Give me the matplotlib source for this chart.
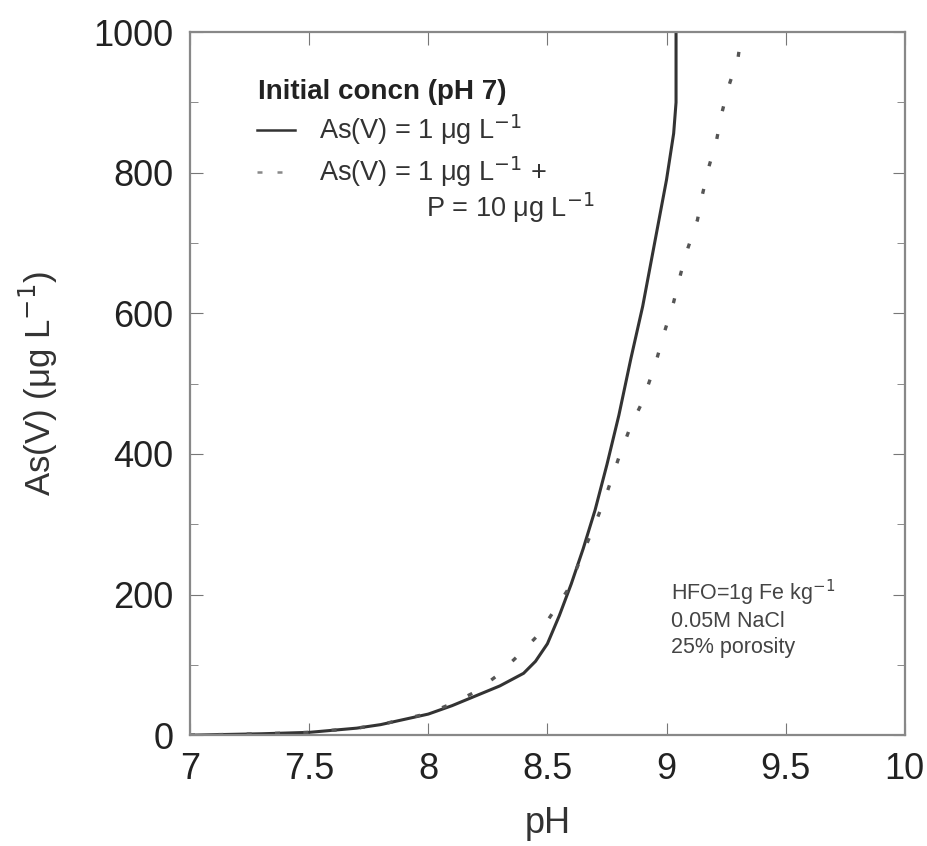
import matplotlib
matplotlib.use("Agg")
import matplotlib.pyplot as plt
from matplotlib.ticker import MultipleLocator

plt.rcParams['font.family'] = ['Liberation Sans', 'DejaVu Sans']

# solid curve: As(V) = 1 ug/L
ph_as = [7.0, 7.3, 7.5, 7.7, 7.8, 8.0, 8.1, 8.2, 8.3, 8.4, 8.45, 8.5, 8.55, 8.6,
         8.65, 8.7, 8.75, 8.8, 8.85, 8.9, 8.95, 9.0, 9.03, 9.04, 9.04]
as_only = [0, 2, 4, 10, 15, 30, 42, 56, 70, 88, 105, 130, 170, 215,
           265, 320, 385, 455, 535, 610, 700, 790, 856, 900, 1010]

# dotted curve: As(V) = 1 ug/L + P = 10 ug/L
ph_asp = [7.0, 7.3, 7.5, 7.7, 7.8, 8.0, 8.1, 8.2, 8.29, 8.38, 8.46, 8.53, 8.59,
          8.65, 8.7, 8.75, 8.8, 8.85, 8.9, 8.93, 8.96, 8.99, 9.03, 9.06, 9.09,
          9.13, 9.15, 9.18, 9.21, 9.23, 9.26, 9.30, 9.32]
as_p = [0, 2, 4, 10, 15, 31, 45, 62, 85, 114, 142, 178, 209,
        260, 300, 345, 395, 440, 475, 505, 536, 572, 616, 657, 693,
        733, 768, 811, 846, 882, 922, 963, 1010]

xticks = [7, 7.5, 8, 8.5, 9, 9.5, 10]
xticklabels = ['7', '7.5', '8', '8.5', '9', '9.5', '10']
yticks = [0, 200, 400, 600, 800, 1000]

fig = plt.figure(figsize=(9.27, 8.46), dpi=100)
ax = fig.add_axes([0.205, 0.131, 0.771, 0.831])

ax.plot(ph_as, as_only, color='#333333', lw=2.2, solid_capstyle='butt')
ax.plot(ph_asp, as_p, color='#555555', lw=2.4, linestyle=(0, (1.5, 7)))

ax.set_xlim(7, 10)
ax.set_ylim(0, 1000)
ax.set_xticks(xticks)
ax.set_xticklabels(xticklabels)
ax.set_yticks(yticks)
ax.yaxis.set_minor_locator(MultipleLocator(100))
ax.tick_params(which='both', direction='in', top=True, right=True,
               color='#777777', labelsize=26, labelcolor='#222222', pad=12)
ax.tick_params(which='major', length=9)
ax.tick_params(which='minor', length=6)
for s in ax.spines.values():
    s.set_color('#888888')
    s.set_linewidth(1.6)

ax.set_xlabel('pH', fontsize=26, color='#333333', labelpad=14)
ax.set_ylabel(r'As(V) ($\mathregular{\mu}$g L$^{-1}$)', fontsize=25,
              color='#333333', labelpad=24)

# legend block
ax.text(7.285, 915, 'Initial concn (pH 7)', fontsize=20, fontweight='bold',
        color='#222222', va='center')
ax.plot([7.28, 7.44], [861, 861], color='#333333', lw=1.8)
ax.text(7.54, 861, r'As(V) = 1 $\mathregular{\mu}$g L$^{-1}$', fontsize=19.5,
        color='#333333', va='center')
ax.plot([7.28, 7.44], [801, 801], color='#888888', lw=1.8, linestyle=(0, (2, 6)))
ax.text(7.54, 801, r'As(V) = 1 $\mathregular{\mu}$g L$^{-1}$ +', fontsize=19.5,
        color='#333333', va='center')
ax.text(7.99, 750, r'P = 10 $\mathregular{\mu}$g L$^{-1}$', fontsize=19.5,
        color='#333333', va='center')

# conditions
ax.text(9.02, 202, r'HFO=1g Fe kg$^{-1}$', fontsize=15.5, color='#444444', va='center')
ax.text(9.02, 161, '0.05M NaCl', fontsize=15.5, color='#444444', va='center')
ax.text(9.02, 124, '25% porosity', fontsize=15.5, color='#444444', va='center')

fig.savefig('out.png', dpi=100)
